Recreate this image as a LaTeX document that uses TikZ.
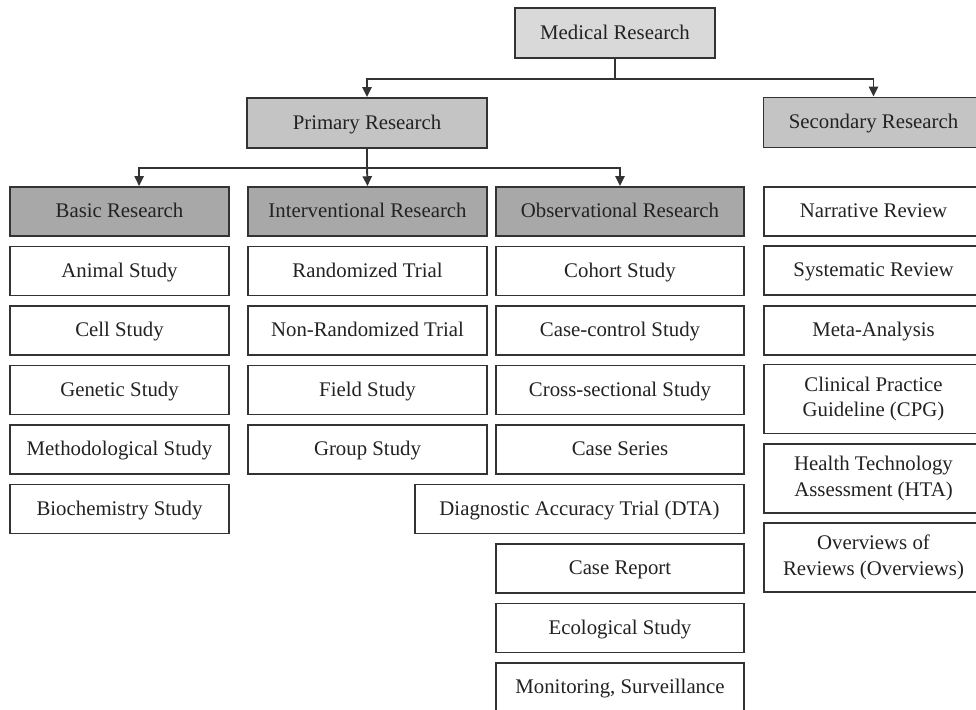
\documentclass[tikz,border=0pt]{standalone}
\usepackage{fontspec}
\setmainfont{Liberation Serif}
\usepackage{tikz}
\usetikzlibrary{arrows.meta,calc}
\definecolor{rootgray}{HTML}{D9D9D9}
\definecolor{midgray}{HTML}{C4C4C4}
\definecolor{headgray}{HTML}{A8A8A8}
\definecolor{linegray}{HTML}{333333}
\definecolor{textgray}{HTML}{222222}

\begin{document}
\begin{tikzpicture}[x=1cm,y=-1cm,
    box/.style={draw=linegray,line width=1.3pt,fill=white,text=textgray,font=\fontsize{14.8}{18}\selectfont,align=center,inner sep=0pt,minimum height=1.225cm,text height=1.1em,text depth=0.2em},
    colA/.style={box,minimum width=5.475cm},
    colB/.style={box,minimum width=5.975cm},
    colC/.style={box,minimum width=6.2cm},
    colD/.style={box,minimum width=5.475cm},
    tallbox/.style={minimum height=1.725cm,text height={},text depth={}},
    line/.style={draw=linegray,line width=1.3pt},
    link/.style={line,-{Triangle[length=7pt,width=6.5pt]}}]
    \useasboundingbox (0,0) rectangle (24.4,17.725);

    \node[box,fill=rootgray,minimum width=5cm,minimum height=1.25cm] (medical) at (15.375,0.825) {Medical Research};
    \node[box,fill=midgray,minimum width=6cm,minimum height=1.25cm] (primary) at (9.175,3.075) {Primary Research};
    \node[box,fill=midgray,minimum width=5.5cm,minimum height=1.25cm] (secondary) at (21.8375,3.0625) {Secondary Research};

    \node[colA,fill=headgray] (basic) at (2.9875,5.2875) {Basic Research};
    \node[colA] (animal) at (2.9875,6.775) {Animal Study};
    \node[colA] (cell) at (2.9875,8.2625) {Cell Study};
    \node[colA] (genetic) at (2.9875,9.75) {Genetic Study};
    \node[colA] (method) at (2.9875,11.2375) {Methodological Study};
    \node[colA] (biochem) at (2.9875,12.725) {Biochemistry Study};

    \node[colB,fill=headgray] (interv) at (9.1875,5.2875) {Interventional Research};
    \node[colB] (random) at (9.1875,6.775) {Randomized Trial};
    \node[colB] (nonrandom) at (9.1875,8.2625) {Non-Randomized Trial};
    \node[colB] (field) at (9.1875,9.75) {Field Study};
    \node[colB] (group) at (9.1875,11.2375) {Group Study};

    \node[colC,fill=headgray] (observ) at (15.5,5.2875) {Observational Research};
    \node[colC] (cohort) at (15.5,6.775) {Cohort Study};
    \node[colC] (casecontrol) at (15.5,8.2625) {Case-control Study};
    \node[colC] (crosssec) at (15.5,9.75) {Cross-sectional Study};
    \node[colC] (caseseries) at (15.5,11.2375) {Case Series};
    \node[box,minimum width=8.225cm] (dta) at (14.4875,12.725) {Diagnostic Accuracy Trial (DTA)};
    \node[colC] (casereport) at (15.5,14.2125) {Case Report};
    \node[colC] (ecological) at (15.5,15.7) {Ecological Study};
    \node[colC] (monitoring) at (15.5,17.1875) {Monitoring, Surveillance};

    \node[colD] (narrative) at (21.8375,5.2875) {Narrative Review};
    \node[colD] (systematic) at (21.8375,6.7625) {Systematic Review};
    \node[colD] (meta) at (21.8375,8.2625) {Meta-Analysis};
    \node[colD,tallbox] (cpg) at (21.8375,9.975) {Clinical Practice\\Guideline (CPG)};
    \node[colD,tallbox] (hta) at (21.8375,11.9625) {Health Technology\\Assessment (HTA)};
    \node[colD,tallbox] (overviews) at (21.8375,13.9375) {Overviews of\\Reviews (Overviews)};

    \draw[line] (medical.south) -- ++(0,0.5) coordinate (mjoin);
    \draw[link] (mjoin) -| (primary.north);
    \draw[link] (mjoin) -| (secondary.north);

    \draw[line] (primary.south) -- ++(0,0.475) coordinate (pjoin);
    \draw[link] (pjoin) -| ([xshift=0.49cm]basic.north);
    \draw[link] (pjoin) -- (interv.north);
    \draw[link] (pjoin) -| (observ.north);
\end{tikzpicture}
\end{document}
